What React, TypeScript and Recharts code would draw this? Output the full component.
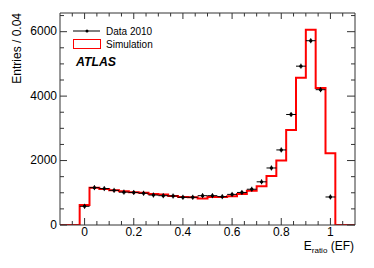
import { ComposedChart, ErrorBar, Legend, Line, Scatter, XAxis, YAxis } from "recharts";

// bin centres (width 0.04) and entries
const binCenters = [0, 0.04, 0.08, 0.12, 0.16, 0.2, 0.24, 0.28, 0.32, 0.36, 0.4, 0.44, 0.48, 0.52, 0.56, 0.6, 0.64, 0.68, 0.72, 0.76, 0.8, 0.84, 0.88, 0.92, 0.96, 1.0];
const dataCounts = [580, 1160, 1130, 1075, 1020, 1010, 985, 930, 910, 900, 860, 860, 910, 910, 880, 950, 1010, 1110, 1340, 1770, 2330, 3430, 4930, 5720, 4200, 870];
const simCounts = [620, 1160, 1120, 1075, 1050, 1020, 1000, 960, 950, 900, 870, 860, 820, 870, 870, 890, 960, 1060, 1200, 1520, 2000, 2950, 4570, 6060, 4250, 2230];
const binWidth = 0.04;

const xDomain = [-0.1, 1.1];
const yDomain = [0, 6580];
const xTicks = [-0.05, 0, 0.05, 0.1, 0.15, 0.2, 0.25, 0.3, 0.35, 0.4, 0.45, 0.5, 0.55, 0.6, 0.65, 0.7, 0.75, 0.8, 0.85, 0.9, 0.95, 1, 1.05];
const xMajor = [0, 0.2, 0.4, 0.6, 0.8, 1];
const yTicks = [0, 500, 1000, 1500, 2000, 2500, 3000, 3500, 4000, 4500, 5000, 5500, 6000, 6500];
const yMajor = [0, 2000, 4000, 6000];

const FONT = "'Liberation Sans', Arial, Helvetica, sans-serif";
const FRAME = "#333";

const points = binCenters.map((x, i) => ({ x, y: dataCounts[i], xErr: binWidth / 2 }));

// step outline: value at each lower bin edge, closed back to zero
const simSteps = [
  { x: xDomain[0], y: 0 },
  ...binCenters.map((c, i) => ({ x: c - binWidth / 2, y: simCounts[i] })),
  { x: binCenters[binCenters.length - 1] + binWidth / 2, y: 0 },
  { x: xDomain[1], y: 0 },
];

const isMajor = (v: number, list: number[]) => list.some((m) => Math.abs(m - v) < 1e-6);

function BottomTick({ x, y, payload }: any) {
  const major = isMajor(payload.value, xMajor);
  return (
    <g>
      <line x1={x} x2={x} y1={y} y2={y - (major ? 7 : 4)} stroke={FRAME} />
      {major && (
        <text x={x} y={y + 11} textAnchor="middle" fontSize={12} fontFamily={FONT} fill="#000">
          {String(Math.round(payload.value * 10) / 10)}
        </text>
      )}
    </g>
  );
}

function TopTick({ x, y, payload }: any) {
  const major = isMajor(payload.value, xMajor);
  return <line x1={x} x2={x} y1={y} y2={y + (major ? 6 : 3.5)} stroke={FRAME} />;
}

function LeftTick({ x, y, payload }: any) {
  const major = isMajor(payload.value, yMajor);
  return (
    <g>
      <line x1={x} x2={x + (major ? 7 : 4)} y1={y} y2={y} stroke={FRAME} />
      {major && (
        <text x={x - 3} y={y + 3.8} textAnchor="end" fontSize={12} fontFamily={FONT} fill="#000">
          {payload.value}
        </text>
      )}
    </g>
  );
}

function RightTick({ x, y, payload }: any) {
  const major = isMajor(payload.value, yMajor);
  return <line x1={x} x2={x - (major ? 8 : 4)} y1={y} y2={y} stroke={FRAME} />;
}

function DataMarker({ cx, cy }: any) {
  return (
    <g>
      <line x1={cx} x2={cx} y1={cy - 2.5} y2={cy + 2.5} stroke="#000" />
      <circle cx={cx} cy={cy} r={1.7} fill="#000" />
    </g>
  );
}

function LegendBox() {
  return (
    <svg width={120} height={60} style={{ display: "block" }}>
      <line x1={13} x2={40} y1={18} y2={18} stroke="#000" />
      <circle cx={27} cy={18} r={1.5} fill="#000" />
      <text x={46} y={21.5} fontSize={10} fontFamily={FONT} fill="#000">Data 2010</text>
      <rect x={13.5} y={26.5} width={27} height={9} fill="none" stroke="#ff0000" />
      <text x={46} y={35} fontSize={10} fontFamily={FONT} fill="#000">Simulation</text>
      <text x={16} y={53} fontSize={12.3} fontWeight="bold" fontStyle="italic" fontFamily={FONT} fill="#000">ATLAS</text>
    </svg>
  );
}

function XTitle({ viewBox }: any) {
  const right = viewBox.x + viewBox.width;
  return (
    <text x={right - 1} y={viewBox.y + 24.5} textAnchor="end" fontSize={12} fontFamily={FONT} fill="#000">
      E<tspan fontSize={8} dy={3}>ratio</tspan>
      <tspan dy={-3}> (EF)</tspan>
    </text>
  );
}

export default function App() {
  return (
    <div style={{ position: "absolute", left: 0, top: 0, width: 374, height: 268, background: "#fff" }}>
      <ComposedChart width={374} height={268} margin={{ top: 0, right: 0, bottom: 0, left: 0 }}>
        <XAxis
          xAxisId="x"
          dataKey="x"
          type="number"
          domain={xDomain}
          allowDataOverflow
          ticks={xTicks}
          interval={0}
          height={43}
          tickSize={0}
          tickMargin={0}
          tickLine={false}
          axisLine={{ stroke: FRAME }}
          tick={<BottomTick />}
          label={<XTitle />}
        />
        <XAxis
          xAxisId="top"
          orientation="top"
          dataKey="x"
          type="number"
          domain={xDomain}
          allowDataOverflow
          ticks={xTicks}
          interval={0}
          height={13}
          tickSize={0}
          tickMargin={0}
          tickLine={false}
          axisLine={{ stroke: FRAME }}
          tick={<TopTick />}
        />
        <YAxis
          yAxisId="y"
          type="number"
          domain={yDomain}
          allowDataOverflow
          ticks={yTicks}
          interval={0}
          width={60}
          tickSize={0}
          tickMargin={0}
          tickLine={false}
          axisLine={{ stroke: FRAME }}
          tick={<LeftTick />}
          label={{
            value: "Entries / 0.04",
            angle: -90,
            position: "insideTopLeft",
            content: ({ viewBox }: any) => (
              <text
                x={21}
                y={viewBox.y}
                transform={`rotate(-90 21 ${viewBox.y})`}
                textAnchor="end"
                fontSize={12}
                fontFamily={FONT}
                fill="#000"
              >
                Entries / 0.04
              </text>
            ),
          }}
        />
        <YAxis
          yAxisId="r"
          orientation="right"
          type="number"
          domain={yDomain}
          allowDataOverflow
          ticks={yTicks}
          interval={0}
          width={19}
          tickSize={0}
          tickMargin={0}
          tickLine={false}
          axisLine={{ stroke: FRAME }}
          tick={<RightTick />}
        />
        <Legend
          layout="vertical"
          align="center"
          verticalAlign="middle"
          wrapperStyle={{ position: "absolute", left: 60, top: 13, width: 120, height: 60 }}
          content={() => <LegendBox />}
        />
        <Line
          xAxisId="x"
          yAxisId="y"
          data={simSteps}
          dataKey="y"
          type="stepAfter"
          stroke="#ff0000"
          strokeWidth={2}
          dot={false}
          activeDot={false}
          isAnimationActive={false}
        />
        <Scatter
          xAxisId="x"
          yAxisId="y"
          data={points}
          dataKey="y"
          shape={<DataMarker />}
          isAnimationActive={false}
        >
          <ErrorBar dataKey="xErr" direction="x" width={0} stroke="#000" strokeWidth={1} isAnimationActive={false} />
        </Scatter>
      </ComposedChart>
    </div>
  );
}
